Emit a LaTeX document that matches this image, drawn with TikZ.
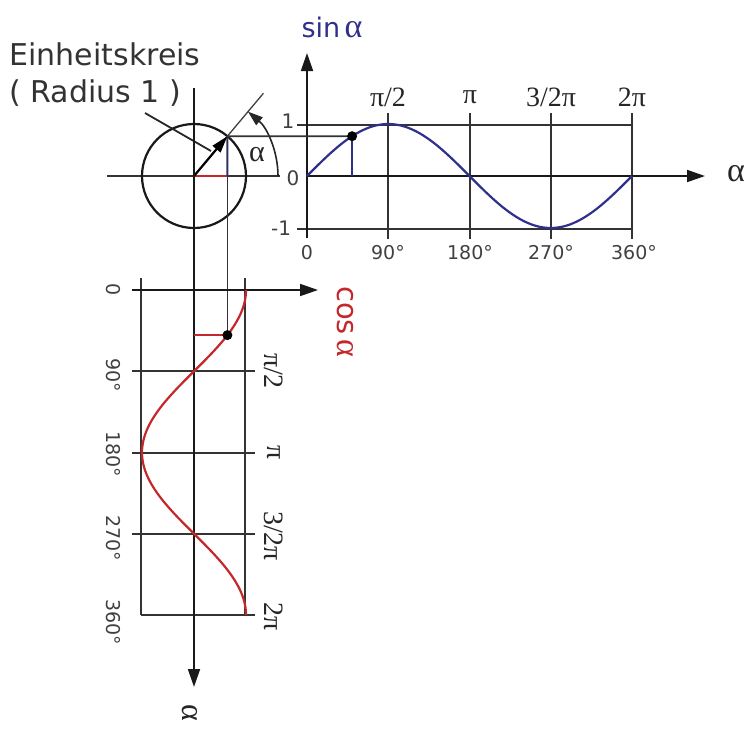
\documentclass[tikz,border=0pt]{standalone}
\usepackage{fontspec}
\setmainfont{DejaVu Sans}
\newfontfamily\greekfont{Liberation Serif}
\usetikzlibrary{arrows.meta, positioning, calc}

\definecolor{sinblue}{RGB}{48,48,140}
\definecolor{cosred}{RGB}{196,40,44}

\begin{document}
\begin{tikzpicture}[
    x=1pt, y=-1pt,
    grid/.style={draw=black!80, line width=1.7pt},
    axis/.style={-{Triangle[length=18pt, width=12pt]}, draw=black!90, line width=1.8pt},
    num/.style={font=\fontsize{19}{22}\selectfont, text=black!75},
    pilbl/.style={font=\greekfont\fontsize{28}{30}\selectfont, text=black!85},
    title/.style={font=\fontsize{30}{34}\selectfont, text=black!80, align=left}
]
\useasboundingbox (0,0) rectangle (748,729);

% Einheitskreis
\coordinate (C) at (194,176);
\coordinate (P) at ($(C)+(-50:52)$);
\coordinate (Pc) at (227.4,176);
\coordinate (ext) at ($(C)+(-50:108)$);
\draw[grid] (107,176) coordinate (hl) -- (280,176) coordinate (hr);
\draw[black!90, line width=2.2pt] (C) circle[radius=52];
\draw[black!75, line width=1.3pt] (C) -- (ext);
\draw[cosred, line width=2pt] (C) -- (Pc);
\draw[sinblue, line width=2pt] (Pc) -- (P);
\draw[-{Triangle[length=17pt, width=10pt]}, line width=2.2pt] (C) -- (P);
\draw[black!85, line width=1.6pt, -{Triangle[length=15pt, width=10pt]}]
    ($(C)+(84,0)$) arc[start angle=0, end angle=-50, radius=84];
\node[font=\greekfont\fontsize{30}{32}\selectfont, text=black!85] (alpha) at (257,155) {α};

% Beschriftung
\node[title, anchor=west] (name) at (6,54) {Einheitskreis};
\node[title, anchor=west] (radius) at (6,93) {( Radius 1 )};
\coordinate (ptr) at (145,113);
\draw[black!85, line width=1.8pt] (ptr) -- (211,151);

% Sinus
\coordinate (O) at (307,176);
\coordinate (S) at (352.1,136.2);
\draw[grid] (297,125) -- (632,125);
\draw[grid] (297,229) -- (632,229);
\foreach \gx in {388,470,551,632}
    \draw[grid] (\gx,113) -- (\gx,239);
\draw[axis] (307,238) -- (307,53);
\draw[axis] (O) -- (705,176);
\draw[grid] (P) -- (S);
\draw[grid] (227.4,136) -- (227.4,335);
\draw[sinblue, line width=2.2pt] plot[domain=0:360, samples=91, smooth] ({307+\x*0.90278},{176-52*sin(\x)});
\draw[sinblue, line width=2.2pt] (352.1,176) -- (S);
\fill (S) circle[radius=5];

\node[font=\fontsize{27}{30}\selectfont, text=sinblue] (sinlbl) at (332,27) {sin\,{\greekfont\fontsize{34}{36}\selectfont α}};
\node[font=\greekfont\fontsize{34}{36}\selectfont, text=black!85] (alphax) at (736,174) {α};
\node[num, font=\fontsize{20}{22}\selectfont] (one) at (288,121) {1};
\node[num, font=\fontsize{20}{22}\selectfont] (zero) at (293,178) {0};
\node[num, font=\fontsize{20}{22}\selectfont] (mone) at (281,228) {-1};
\node[num] (d0) at (307,253) {0};
\node[num] (d90) at (388,253) {90°};
\node[num] (d180) at (470,253) {180°};
\node[num] (d270) at (551,253) {270°};
\node[num] (d360) at (634,253) {360°};
\node[pilbl] (p1) at (388,97) {π/2};
\node[pilbl] (p2) at (470,97) {π};
\node[pilbl] (p3) at (551,97) {3/2π};
\node[pilbl] (p4) at (632,97) {2π};

% Kosinus
\coordinate (Q) at (194,290);
\coordinate (K) at (227.4,335.1);
\draw[grid] (141,278) -- (141,615);
\draw[grid] (245,278) -- (245,615);
\foreach \gy in {371,453,534}
    \draw[grid] (132,\gy) -- (255,\gy);
\draw[grid] (141,615) -- (255,615);
\draw[axis] (132,290) -- (318,290);
\draw[axis] (194,88) -- (194,687);
\draw[cosred, line width=2.2pt] plot[domain=0:360, samples=91, smooth] ({194+52*cos(\x)},{290+\x*0.90278});
\draw[cosred, line width=2.2pt] (194,335.1) -- (K);
\fill (K) circle[radius=5];

\node[font=\fontsize{29}{32}\selectfont, text=cosred, rotate=-90] (coslbl) at (345,322) {cos\,{\greekfont\fontsize{34}{36}\selectfont α}};
\node[font=\greekfont\fontsize{32}{34}\selectfont, text=black!85, rotate=-90] (alphay) at (190,713) {α};
\node[num, rotate=-90] (c0) at (113,290) {0};
\node[num, rotate=-90] (c90) at (113,375) {90°};
\node[num, rotate=-90] (c180) at (113,454) {180°};
\node[num, rotate=-90] (c270) at (113,538) {270°};
\node[num, rotate=-90] (c360) at (113,622) {360°};
\node[pilbl, rotate=-90] (q1) at (274,371) {π/2};
\node[pilbl, rotate=-90] (q2) at (274,453) {π};
\node[pilbl, rotate=-90] (q3) at (274,536) {3/2π};
\node[pilbl, rotate=-90] (q4) at (274,617) {2π};
\end{tikzpicture}
\end{document}
